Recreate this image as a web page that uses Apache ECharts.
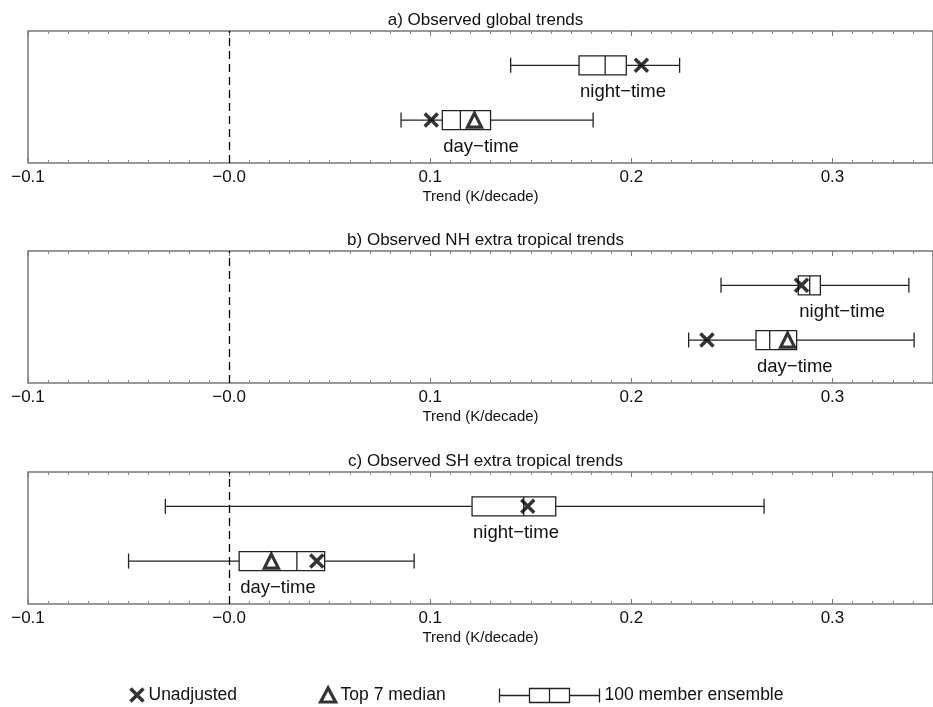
<!DOCTYPE html>
<html>
<head>
<meta charset="utf-8">
<script src="https://cdn.jsdelivr.net/npm/echarts@6/dist/echarts.min.js"></script>
<style>html,body{margin:0;padding:0;background:#fff}#c{width:933px;height:707px}</style>
</head>
<body>
<div id="c"></div>
<script>
// ---- data ----
const panelTitles = ['a) Observed global trends', 'b) Observed NH extra tropical trends', 'c) Observed SH extra tropical trends'];
const rowLabels = ['night\u2212time', 'day\u2212time'];
const rowPos = [0.74, 0.325];           // vertical slot of each row inside a panel (0 bottom, 1 top)
const tickValues = [-0.1, 0.0, 0.1, 0.2, 0.3];
const tickLabels = ['\u22120.1', '\u22120.0', '0.1', '0.2', '0.3'];
const axisTitle = 'Trend (K/decade)';
const legendNames = ['Unadjusted', 'Top 7 median', '100 member ensemble'];

// per panel, per row [night, day]
const whiskerLow  = [[0.140, 0.0855], [0.2446, 0.2285], [-0.0317, -0.050]];
const q1          = [[0.174, 0.106],  [0.283, 0.262],   [0.1208, 0.005]];
const median      = [[0.187, 0.115],  [0.2887, 0.2688], [0.1465, 0.0337]];
const q3          = [[0.1975, 0.130], [0.294, 0.2822],  [0.1624, 0.0475]];
const whiskerHigh = [[0.224, 0.181],  [0.338, 0.3406],  [0.266, 0.092]];
const unadjusted  = [[0.205, 0.1005], [0.2846, 0.2376], [0.1485, 0.0436]];
const top7median  = [[null, 0.122],   [null, 0.2777],   [null, 0.021]];

// ---- layout ----
const gridTops = [31, 251, 472];
const gridH = 132;
const FONT = 'Liberation Sans, Arial, Helvetica, sans-serif';
const X_PATH = 'path://M0,0L10,10M10,0L0,10';
const BOX_ICON = 'path://M0,7L30,7M0,0L0,14M30,0L70,0L70,14L30,14Z M50,0L50,14 M70,7L100,7 M100,0L100,14';

function fmtTick(v) {
  let best = 0, d = Infinity;
  tickValues.forEach((t, i) => { const dd = Math.abs(t - v); if (dd < d) { d = dd; best = i; } });
  return d < 1e-6 ? tickLabels[best] : '';
}

const grids = [], xAxes = [], yAxes = [], titles = [], series = [];
gridTops.forEach((top, p) => {
  grids.push({ left: 28, right: -4, top: top, height: gridH, show: true, borderColor: '#777', borderWidth: 1.5, backgroundColor: 'transparent' });
  const common = {
    type: 'value', gridIndex: p, min: -0.1, max: 0.35, interval: 0.1,
    splitLine: { show: false },
    axisLine: { show: false },
    axisTick: { show: true, inside: true, length: 5, lineStyle: { color: '#777', width: 1 } },
    minorTick: { show: true, splitNumber: 10, length: 3, lineStyle: { color: '#888', width: 1 } }
  };
  xAxes.push(Object.assign({}, common, {
    position: 'bottom',
    axisLabel: { show: true, margin: 6, fontSize: 17, color: '#111', fontFamily: FONT, showMaxLabel: false, formatter: fmtTick },
    name: axisTitle, nameLocation: 'middle', nameGap: 26,
    nameTextStyle: { fontSize: 15, color: '#111', fontFamily: FONT, verticalAlign: 'top' }
  }));
  xAxes.push(Object.assign({}, common, { position: 'top', axisLabel: { show: false } }));
  yAxes.push({ type: 'value', gridIndex: p, min: 0, max: 1, show: false });
  titles.push({ text: panelTitles[p], left: 28 + 909 / 2 - 2, textAlign: 'center', top: top - 24,
    textStyle: { fontSize: 17, fontWeight: 'normal', color: '#111', fontFamily: FONT } });

  const boxData = [], xData = [], tData = [];
  for (let r = 0; r < 2; r++) {
    boxData.push([whiskerLow[p][r], q1[p][r], median[p][r], q3[p][r], whiskerHigh[p][r], rowPos[r], r]);
    if (unadjusted[p][r] != null) xData.push([unadjusted[p][r], rowPos[r]]);
    if (top7median[p][r] != null) tData.push([top7median[p][r], rowPos[r]]);
  }
  series.push({
    name: legendNames[2], type: 'custom', xAxisIndex: 2 * p, yAxisIndex: p, z: 2,
    itemStyle: { color: 'none', borderColor: '#222', borderWidth: 1.3 },
    encode: { x: [0, 1, 2, 3, 4], y: 5 },
    data: boxData,
    renderItem: function (params, api) {
      const yv = api.value(5);
      const xs = [0, 1, 2, 3, 4].map(i => api.coord([api.value(i), yv])[0]);
      const y = api.coord([0, yv])[1];
      const st = { stroke: '#222', lineWidth: 1.3, fill: null };
      const bh = 9.5, ch = 7.5;
      return { type: 'group', children: [
        { type: 'line', shape: { x1: xs[0], y1: y, x2: xs[1], y2: y }, style: st },
        { type: 'line', shape: { x1: xs[3], y1: y, x2: xs[4], y2: y }, style: st },
        { type: 'line', shape: { x1: xs[0], y1: y - ch, x2: xs[0], y2: y + ch }, style: st },
        { type: 'line', shape: { x1: xs[4], y1: y - ch, x2: xs[4], y2: y + ch }, style: st },
        { type: 'rect', shape: { x: xs[1], y: y - bh, width: xs[3] - xs[1], height: 2 * bh }, style: { stroke: '#222', lineWidth: 1.3, fill: '#fff' } },
        { type: 'line', shape: { x1: xs[2], y1: y - bh, x2: xs[2], y2: y + bh }, style: st },
        { type: 'text', x: xs[1] + 1, y: y + 27, style: { text: rowLabels[api.value(6)], fill: '#111', fontSize: 18.5, fontFamily: FONT, align: 'left', verticalAlign: 'middle' } }
      ]};
    }
  });
  series.push({
    name: legendNames[0], type: 'scatter', xAxisIndex: 2 * p, yAxisIndex: p, z: 4,
    symbol: X_PATH, symbolSize: 13,
    itemStyle: { color: 'none', borderColor: '#000', borderWidth: 3.5 },
    data: xData,
    markLine: { silent: true, symbol: 'none', label: { show: false },
      lineStyle: { type: [8, 5], color: '#000', width: 1.3 }, data: [{ xAxis: 0 }] }
  });
  series.push({
    name: legendNames[1], type: 'scatter', xAxisIndex: 2 * p, yAxisIndex: p, z: 5,
    symbol: 'triangle', symbolSize: 14,
    itemStyle: { color: '#fff', borderColor: '#000', borderWidth: 3.2 },
    data: tData
  });
});

const legTop = 681;
const legText = { fontSize: 17.5, color: '#111', fontFamily: FONT };
const legends = [
  { data: [legendNames[0]], left: 123, top: legTop, icon: X_PATH, itemWidth: 13, itemHeight: 13, textStyle: legText, selectedMode: false,
    itemStyle: { color: 'none', borderColor: '#000', borderWidth: 3.5 } },
  { data: [legendNames[1]], left: 314, top: legTop, icon: 'triangle', itemWidth: 15, itemHeight: 14, textStyle: legText, selectedMode: false,
    itemStyle: { color: '#fff', borderColor: '#000', borderWidth: 3.2 } },
  { data: [legendNames[2]], left: 492, top: legTop, icon: BOX_ICON, itemWidth: 100, itemHeight: 14, textStyle: legText, selectedMode: false,
    itemStyle: { color: 'none', borderColor: '#222', borderWidth: 1.3 } }
];

const chart = echarts.init(document.getElementById('c'), null, { renderer: 'canvas' });
chart.setOption({
  animation: false,
  backgroundColor: '#fff',
  title: titles,
  grid: grids,
  xAxis: xAxes,
  yAxis: yAxes,
  legend: legends,
  series: series
});
</script>
</body>
</html>
